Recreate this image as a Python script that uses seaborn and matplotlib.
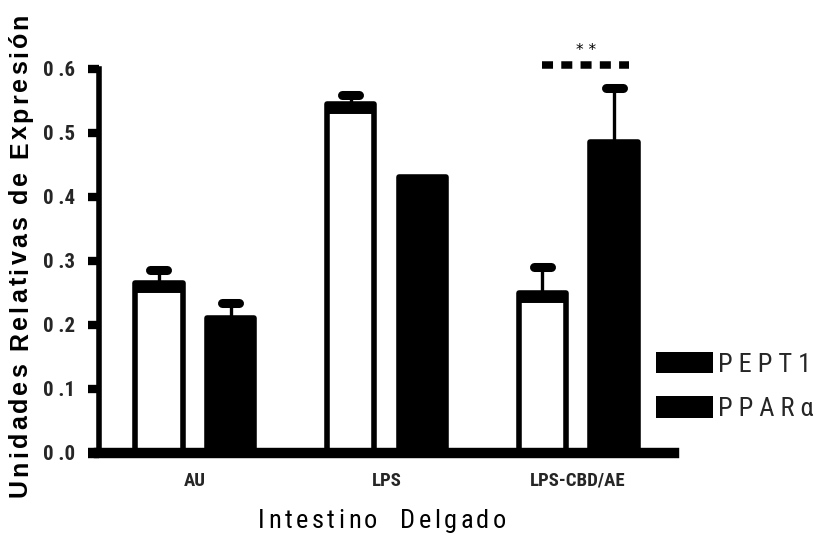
import matplotlib
matplotlib.use("Agg")
import matplotlib.pyplot as plt
from matplotlib import font_manager, ft2font, transforms
from matplotlib.patches import Patch
import numpy as np
import pandas as pd
import seaborn as sns

# ---- data -------------------------------------------------------------
groups = ["AU", "LPS", "LPS-CBD/AE"]
genes = ["PEPT1", "PPARα"]
pept1_mean = [0.265, 0.545, 0.25]
pept1_err = [0.02, 0.014, 0.04]
ppara_mean = [0.21, 0.43, 0.485]
ppara_err = [0.024, 0.0, 0.084]
y_ticks = [0.0, 0.1, 0.2, 0.3, 0.4, 0.5, 0.6]
y_tick_labels = ["0 .0", "0 .1", "0 .2", "0 .3", "0 .4", "0 .5", "0 .6"]
legend_labels = ["P E P T 1", "P P A R α"]
x_title = "Intestino  Delgado"
y_title = "Unidades Relativas de Expresión"
signif_mark = "* *"

# ---- figure geometry --------------------------------------------------
DPI = 100
W, H = 818, 539

sns.set_theme(style="white")
plt.rcParams["font.family"] = ["Liberation Sans", "DejaVu Sans"]

# pick the narrowest sans family available for the condensed labels
installed = {f.name for f in font_manager.fontManager.ttflist}
NARROW = dict(family=["Liberation Sans", "DejaVu Sans"])
CONDENSED = False
for cand in ("Liberation Sans Narrow", "Roboto Condensed",
             "Open Sans Condensed", "Noto Sans Condensed"):
    if cand in installed:
        NARROW = dict(family=[cand, "DejaVu Sans"])
        CONDENSED = True
        break

# size tweaks depending on how narrow the chosen face is
S = dict(tick=15, cat=13.5, xlab=19, xtrack=3.6, leg=19) if CONDENSED else \
    dict(tick=15, cat=11.5, xlab=16, xtrack=4.5, leg=14)


def fprops(size, weight="normal", base=None):
    base = base or NARROW
    return font_manager.FontProperties(size=size, weight=weight, **base)


df = pd.DataFrame({
    "grupo": groups * 2,
    "gen": [genes[0]] * len(groups) + [genes[1]] * len(groups),
    "valor": pept1_mean + ppara_mean,
    "err": pept1_err + ppara_err,
})

fig = plt.figure(figsize=(W / DPI, H / DPI), dpi=DPI)
ax_left, ax_right = 99, 674
ax_bottom, ax_top = 452.5, 68.5
ax = fig.add_axes([ax_left / W, (H - ax_bottom) / H,
                   (ax_right - ax_left) / W, (ax_bottom - ax_top) / H])

sns.barplot(data=df, x="grupo", y="valor", hue="gen", order=groups,
            hue_order=genes, palette=["white", "black"], saturation=1,
            width=0.75, gap=0.34, errorbar=None, edgecolor="black",
            linewidth=4, legend=False, ax=ax)

ax.set_xlim(-0.5, 2.5)
ax.set_ylim(0, 0.6)

# bars sorted left to right: AU-PEPT1, AU-PPARa, LPS-PEPT1, ...
bars = sorted(ax.patches, key=lambda p: p.get_x())
err_by_bar = [e for pair in zip(pept1_err, ppara_err) for e in pair]
px_per_unit = (ax_right - ax_left) / 3.0
cap_half = 8.5 / px_per_unit

top_band = transforms.offset_copy(ax.transData, fig=fig, x=0, y=-4, units="dots")
for i, (bar, err) in enumerate(zip(bars, err_by_bar)):
    bar.set_joinstyle("round")
    cx = bar.get_x() + bar.get_width() / 2
    top = bar.get_height()
    if i % 2 == 0:
        # heavier top border on the open bars
        ax.plot([bar.get_x(), bar.get_x() + bar.get_width()], [top, top],
                color="black", lw=8.6, solid_capstyle="butt",
                transform=top_band, zorder=3)
    if err > 0:
        ax.vlines(cx, top, top + err, color="black", lw=2.4, zorder=2)
        caps = ax.hlines(top + err, cx - cap_half, cx + cap_half,
                         color="black", lw=6.5, zorder=4)
        caps.set_capstyle("round")

# significance bracket over LPS-CBD/AE
cbd_white, cbd_black = bars[4], bars[5]
y_sig = max(p.get_height() + e for p, e in zip(bars, err_by_bar)) + 0.037
x0 = cbd_white.get_x() + cbd_white.get_width() / 2
x1 = cbd_black.get_x() + cbd_black.get_width() / 2 + 0.08
ax.plot([x0, x1], [y_sig, y_sig], color="black", lw=5.4,
        linestyle=(0, (1.47, 1.1)), dash_capstyle="butt", clip_on=False)
ax.text((x0 + x1) / 2, y_sig + 0.011, signif_mark, ha="center", va="bottom",
        fontsize=11, family="DejaVu Sans", color="black", clip_on=False)

# axes styling
for side in ("top", "right"):
    ax.spines[side].set_visible(False)
ax.spines["left"].set_linewidth(4)
ax.spines["bottom"].set_linewidth(7.5)
for side in ("left", "bottom"):
    ax.spines[side].set_color("black")
ax.plot([-11 / (ax_right - ax_left), 0], [0, 0], color="black", lw=7.5,
        solid_capstyle="butt", transform=ax.get_yaxis_transform(),
        clip_on=False)

ax.set_yticks(y_ticks)
ax.set_yticklabels(y_tick_labels, fontproperties=fprops(S["tick"], "bold"))
ax.tick_params(axis="y", direction="out", length=8, width=6,
               color="black", pad=9, left=True)
ax.tick_params(axis="x", length=0, pad=14)
for lab in ax.get_xticklabels():
    lab.set_fontproperties(fprops(S["cat"], "bold"))
ax.set_xlabel("")
ax.set_ylabel("")


def tracked_text(s, x, y, size, weight="normal", base=None, tracking=0.0,
                 rotation=0):
    """Draw a string one glyph at a time with extra spacing (pixel coords)."""
    fp = fprops(size, weight, base)
    ft = ft2font.FT2Font(font_manager.findfont(fp), 1)
    ft.set_size(size, DPI)
    adv = [ft.load_char(ord(c)).linearHoriAdvance / 65536 for c in s]
    total = sum(adv) + tracking * (len(s) - 1)
    pos = -total / 2
    ident = transforms.IdentityTransform()
    for c, a in zip(s, adv):
        px, py = (x, y + pos) if rotation == 90 else (x + pos, y)
        fig.text(px, py, c, transform=ident, fontproperties=fp,
                 rotation=rotation, rotation_mode="anchor",
                 ha="left", va="baseline", color="black")
        pos += a + tracking


tracked_text(x_title, 382, H - 528, S["xlab"], tracking=S["xtrack"])
tracked_text(y_title, 27, H - 255, 18, weight="bold",
             base=dict(family=["Liberation Sans", "DejaVu Sans"]),
             tracking=3.0, rotation=90)

fs_px = S["leg"] * DPI / 72
handles = [Patch(facecolor="black", edgecolor="black", lw=0) for _ in genes]
row_h = 47 / fs_px
fig.legend(handles, legend_labels, loc="upper left",
           bbox_to_anchor=(656 / W, (H - 352) / H), frameon=False,
           prop=fprops(S["leg"]), handlelength=57 / fs_px,
           handleheight=23 / fs_px, handletextpad=5 / fs_px,
           labelspacing=max(row_h - 1.05, 0.2), borderpad=0, borderaxespad=0)

fig.savefig("out.png", dpi=DPI, facecolor="white")
